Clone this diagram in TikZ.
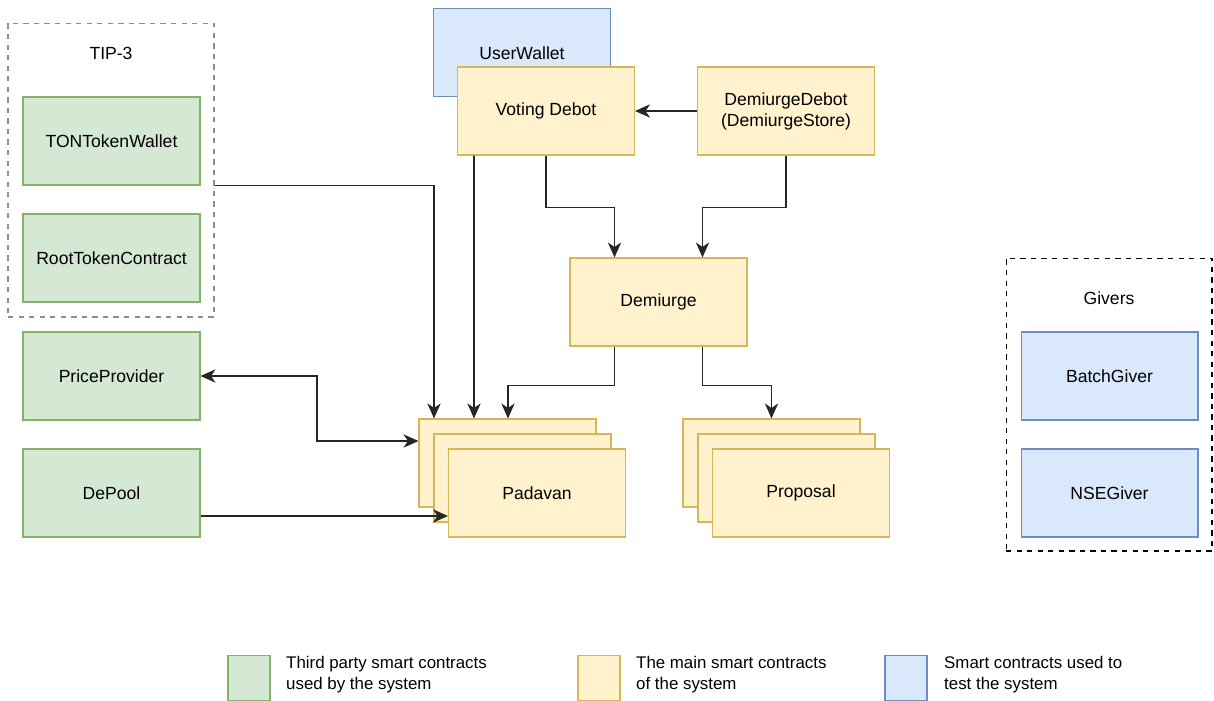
\documentclass[tikz,border=0pt]{standalone}
\usepackage{fontspec}
\setmainfont{Liberation Sans}
\usepackage{tikz}
\usetikzlibrary{shapes,arrows,arrows.meta,positioning}

\definecolor{thirdfill}{HTML}{D5E8D4}
\definecolor{thirddraw}{HTML}{82B366}
\definecolor{mainfill}{HTML}{FFF2CC}
\definecolor{maindraw}{HTML}{D6B656}
\definecolor{testfill}{HTML}{DAE8FC}
\definecolor{testdraw}{HTML}{6C8EBF}

\begin{document}
\begin{tikzpicture}[
      x=0.02cm, y=-0.02cm,
      >={Stealth[length=8.5pt, width=7.5pt, inset=2.5pt]},
      box/.style={rectangle, draw, minimum width=3.54cm, minimum height=1.76cm, font=\fontsize{10}{12}\selectfont, align=center, line width=0.6pt},
      third/.style={box, fill=thirdfill, draw=thirddraw},
      main/.style={box, fill=mainfill, draw=maindraw},
      test/.style={box, fill=testfill, draw=testdraw},
      group/.style={rectangle, dashed, minimum width=4.12cm, line width=0.6pt},
      key/.style={rectangle, draw, minimum width=0.84cm, minimum height=0.9cm, line width=0.6pt},
      keytext/.style={anchor=west, align=left, font=\fontsize{9.6}{12}\selectfont},
      line/.style={draw=black!85, ->, line width=1pt}
    ]
    \useasboundingbox (0,0) rectangle (1214,700);
    % groups
    \node[group, draw=black!45, minimum height=5.88cm] (tip) at (111,170) {};
    \node[font=\fontsize{10}{12}\selectfont] (tiplabel) at (111,53) {TIP-3};
    \node[group, draw=black, minimum height=5.86cm] (givers) at (1109,404.5) {};
    \node[font=\fontsize{10}{12}\selectfont] (giverslabel) at (1109,298) {Givers};
    % third party contracts
    \node[third] (ton) at (111.5,141) {TONTokenWallet};
    \node[third] (root) at (111.5,258) {RootTokenContract};
    \node[third] (price) at (111.5,376) {PriceProvider};
    \node[third] (depool) at (111.5,493) {DePool};
    % debots
    \node[test] (user) at (522,52.5) {};
    \node[font=\fontsize{10}{12}\selectfont] (userlabel) at (522,53) {UserWallet};
    \node[main] (voting) at (546,111) {Voting Debot};
    \node[main] (demdebot) at (786,111) {DemiurgeDebot\\(DemiurgeStore)};
    \node[main] (demiurge) at (658.5,302) {Demiurge};
    % stacks
    \node[main] (pad0) at (507.5,463) {};
    \node[main] (pad1) at (522.5,478) {};
    \node[main] (pad2) at (537,493) {Padavan};
    \node[main] (prop0) at (771.5,463) {};
    \node[main] (prop1) at (786.5,478) {};
    \node[main] (prop2) at (801,493) {Proposal};
    % givers
    \node[test] (batch) at (1109.5,376) {BatchGiver};
    \node[test] (nse) at (1109.5,493) {NSEGiver};
    % connectors
    \draw[line] (demdebot.west) -- (voting.east);
    \draw[line] (voting.south) -- ++(0,52) -| ([xshift=-0.88cm]demiurge.north);
    \draw[line] (demdebot.south) -- ++(0,52) -| ([xshift=0.88cm]demiurge.north);
    \draw[line] ([xshift=-0.88cm]demiurge.south) -- ++(0,39) -| ([xshift=0.01cm]pad0.north);
    \draw[line] ([xshift=0.88cm]demiurge.south) -- ++(0,39) -| (prop0.north);
    \draw[line] (tip.east |- ton.south) -| ([xshift=-1.47cm]pad0.north);
    \draw[line] ([xshift=-1.44cm]voting.south) -- ([xshift=-0.67cm]pad0.north);
    \draw[line, <->] (price.east) -| (317,441) -- (pad0.west |- 0,441);
    \draw[line] ([yshift=-0.46cm]depool.east) -- ([yshift=-0.46cm]pad2.west);
    % legend
    \node[key, fill=thirdfill, draw=thirddraw] (key1) at (249,678) {};
    \node[keytext] (key1text) at (280,675) {Third party smart contracts\\used by the system};
    \node[key, fill=mainfill, draw=maindraw] (key2) at (599,678) {};
    \node[keytext] (key2text) at (630,675) {The main smart contracts\\of the system};
    \node[key, fill=testfill, draw=testdraw] (key3) at (906,678) {};
    \node[keytext] (key3text) at (938,675) {Smart contracts used to\\test the system};
  \end{tikzpicture}
\end{document}
